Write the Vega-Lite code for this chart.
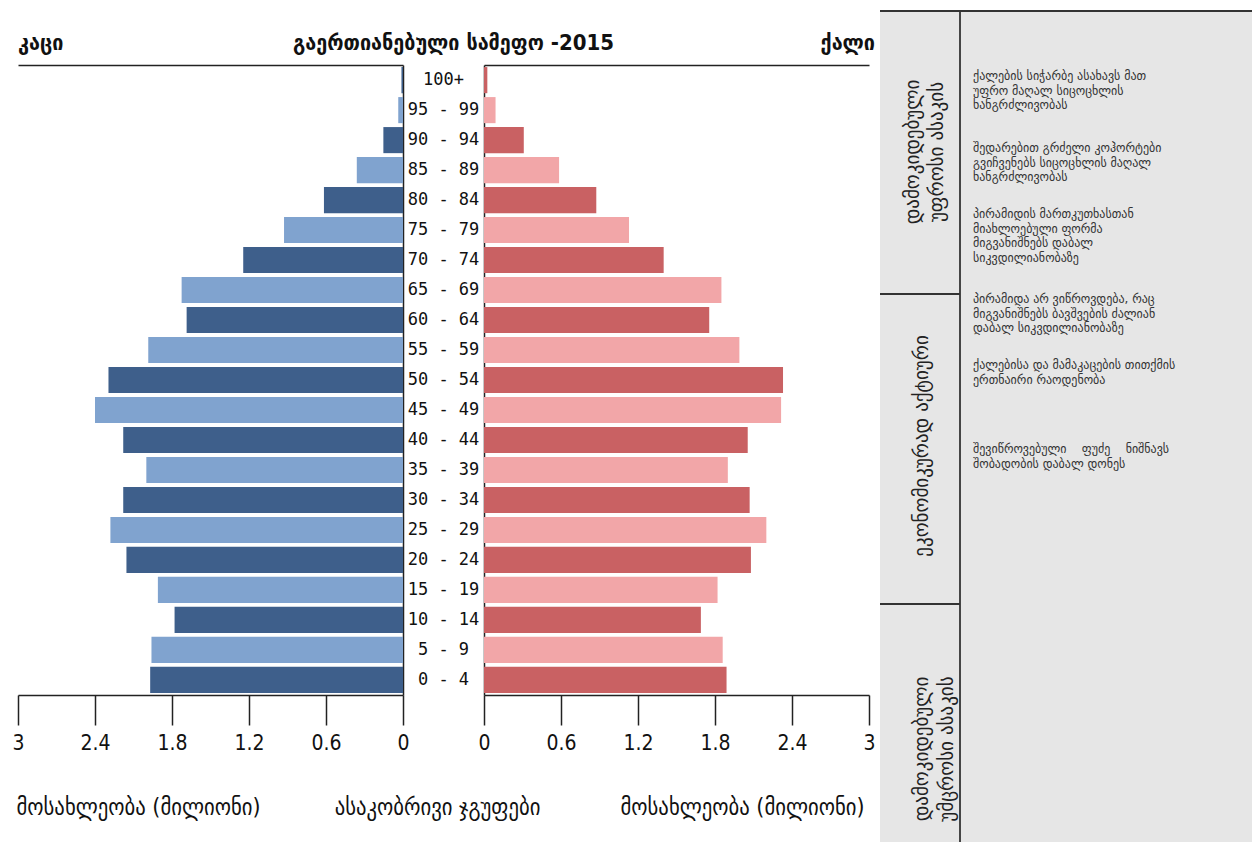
{
  "$schema": "https://vega.github.io/schema/vega-lite/v6.json",
  "background": "white",
  "padding": {"left": 11, "top": 10, "right": 0, "bottom": 0},
  "spacing": 11,
  "bounds": "flush",
  "resolve": {"scale": {"color": "independent"}},
  "datasets": {
    "pop": [
      {"age": "100+", "male": 0.012, "female": 0.026, "shade": "dark"},
      {"age": "95 - 99", "male": 0.037, "female": 0.09, "shade": "light"},
      {"age": "90 - 94", "male": 0.153, "female": 0.31, "shade": "dark"},
      {"age": "85 - 89", "male": 0.36, "female": 0.585, "shade": "light"},
      {"age": "80 - 84", "male": 0.616, "female": 0.875, "shade": "dark"},
      {"age": "75 - 79", "male": 0.927, "female": 1.13, "shade": "light"},
      {"age": "70 - 74", "male": 1.245, "female": 1.40, "shade": "dark"},
      {"age": "65 - 69", "male": 1.725, "female": 1.85, "shade": "light"},
      {"age": "60 - 64", "male": 1.686, "female": 1.755, "shade": "dark"},
      {"age": "55 - 59", "male": 1.985, "female": 1.99, "shade": "light"},
      {"age": "50 - 54", "male": 2.295, "female": 2.33, "shade": "dark"},
      {"age": "45 - 49", "male": 2.40, "female": 2.315, "shade": "light"},
      {"age": "40 - 44", "male": 2.18, "female": 2.055, "shade": "dark"},
      {"age": "35 - 39", "male": 2.00, "female": 1.90, "shade": "light"},
      {"age": "30 - 34", "male": 2.18, "female": 2.07, "shade": "dark"},
      {"age": "25 - 29", "male": 2.28, "female": 2.20, "shade": "light"},
      {"age": "20 - 24", "male": 2.155, "female": 2.08, "shade": "dark"},
      {"age": "15 - 19", "male": 1.91, "female": 1.82, "shade": "light"},
      {"age": "10 - 14", "male": 1.78, "female": 1.69, "shade": "dark"},
      {"age": "5 - 9", "male": 1.96, "female": 1.86, "shade": "light"},
      {"age": "0 - 4", "male": 1.97, "female": 1.89, "shade": "dark"}
    ],
    "box": [
      {"tx": 0, "tx2": 372, "ty": 0, "ty2": 832}
    ],
    "lines": [
      {"tx": 0, "tx2": 372, "ty": 0, "ty2": 0},
      {"tx": 80, "tx2": 80, "ty": 0, "ty2": 832},
      {"tx": 0, "tx2": 80, "ty": 283, "ty2": 283},
      {"tx": 0, "tx2": 80, "ty": 593, "ty2": 593}
    ],
    "body": [
      {"tx": 93, "ty": 65, "txt": "ქალების სიჭარბე ასახავს მათ"},
      {"tx": 93, "ty": 79.5, "txt": "უფრო მაღალ სიცოცხლის"},
      {"tx": 93, "ty": 94, "txt": "ხანგრძლივობას"},
      {"tx": 93, "ty": 137, "txt": "შედარებით გრძელი კოჰორტები"},
      {"tx": 93, "ty": 151.5, "txt": "გვიჩვენებს სიცოცხლის მაღალ"},
      {"tx": 93, "ty": 166, "txt": "ხანგრძლივობას"},
      {"tx": 93, "ty": 203, "txt": "პირამიდის მართკუთხასთან"},
      {"tx": 93, "ty": 217.5, "txt": "მიახლოებული ფორმა"},
      {"tx": 93, "ty": 232, "txt": "მიგვანიშნებს დაბალ"},
      {"tx": 93, "ty": 246.5, "txt": "სიკვდილიანობაზე"},
      {"tx": 93, "ty": 288, "txt": "პირამიდა არ ვიწროვდება, რაც"},
      {"tx": 93, "ty": 302.5, "txt": "მიგვანიშნებს ბავშვების ძალიან"},
      {"tx": 93, "ty": 317, "txt": "დაბალ სიკვდილიანობაზე"},
      {"tx": 93, "ty": 354, "txt": "ქალებისა და მამაკაცების თითქმის"},
      {"tx": 93, "ty": 368.5, "txt": "ერთნაირი რაოდენობა"},
      {"tx": 93, "ty": 438, "txt": "შევიწროვებული\u00a0\u00a0\u00a0\u00a0ფუძე\u00a0\u00a0\u00a0\u00a0ნიშნავს"},
      {"tx": 93, "ty": 452.5, "txt": "შობადობის დაბალ დონეს"}
    ],
    "side": [
      {"tx": 33, "ty": 141, "txt": "დამოკიდებული"},
      {"tx": 57, "ty": 141, "txt": "უფროსი ასაკის"},
      {"tx": 42, "ty": 435, "txt": "ეკონომიკურად აქტიური"},
      {"tx": 42, "ty": 738, "txt": "დამოკიდებული"},
      {"tx": 67, "ty": 738, "txt": "უმცროსი ასაკის"}
    ]
  },
  "hconcat": [
    {
      "width": 385,
      "height": 630,
      "data": {"name": "pop"},
      "title": {"text": "კაცი", "anchor": "start", "dx": 6, "font": "DejaVu Sans Condensed", "fontSize": 22, "fontWeight": "bold", "color": "#111", "offset": 10},
      "layer": [
        {
          "mark": {"type": "bar"},
          "encoding": {
            "y": {"field": "age", "type": "nominal", "sort": null, "scale": {"paddingInner": 0.13, "paddingOuter": 0.07}, "axis": {"orient": "right", "labels": false, "ticks": false, "title": null, "domainColor": "#222", "domainWidth": 1.5}},
            "x": {"field": "male", "type": "quantitative", "scale": {"domain": [0, 3], "reverse": true, "nice": false}, "axis": {"orient": "bottom", "values": [0, 0.6, 1.2, 1.8, 2.4, 3], "format": "~g", "labelFlush": false, "labelOverlap": false, "tickSize": 30, "tickColor": "#222", "tickWidth": 1.5, "domainColor": "#222", "domainWidth": 1.5, "labelFont": "Liberation Sans Narrow, DejaVu Sans Condensed", "labelFontSize": 21, "labelColor": "#111", "labelPadding": 7, "title": "მოსახლეობა (მილიონი)", "titleFont": "DejaVu Sans Condensed", "titleFontSize": 23, "titleFontWeight": "normal", "titleColor": "#111", "titleX": 120, "titleY": 112, "titleAlign": "center", "titleBaseline": "middle"}},
            "color": {"field": "shade", "type": "nominal", "scale": {"domain": ["dark", "light"], "range": ["#3e5f8b", "#80a3cf"]}, "legend": null}
          }
        },
        {
          "mark": {"type": "bar", "opacity": 0},
          "encoding": {
            "y": {"field": "age", "type": "nominal", "sort": null},
            "x": {"field": "male", "type": "quantitative", "axis": {"orient": "top", "labels": false, "ticks": false, "title": null, "domainColor": "#222", "domainWidth": 1.5}}
          }
        }
      ],
      "resolve": {"axis": {"x": "independent"}}
    },
    {
      "width": 59,
      "height": 630,
      "data": {"name": "pop"},
      "title": {"text": "გაერთიანებული სამეფო -2015", "anchor": "middle", "dx": 10, "font": "DejaVu Sans Condensed", "fontSize": 22, "fontWeight": "bold", "color": "#111", "offset": 10},
      "mark": {"type": "text", "font": "DejaVu Sans Mono", "fontSize": 17, "align": "center", "baseline": "middle", "color": "#111"},
      "encoding": {
        "y": {"field": "age", "type": "nominal", "sort": null, "scale": {"paddingInner": 0.13, "paddingOuter": 0.07}, "axis": null},
        "x": {"datum": 0, "type": "quantitative", "scale": {"domain": [-1, 1]}, "axis": {"labels": false, "ticks": false, "domain": false, "grid": false, "title": "ასაკობრივი ჯგუფები", "titleFont": "DejaVu Sans Condensed", "titleFontSize": 23, "titleFontWeight": "normal", "titleColor": "#111", "titleX": 23, "titleY": 112, "titleAlign": "center", "titleBaseline": "middle"}},
        "text": {"field": "age"}
      }
    },
    {
      "width": 385,
      "height": 630,
      "data": {"name": "pop"},
      "title": {"text": "ქალი", "anchor": "end", "font": "DejaVu Sans Condensed", "fontSize": 22, "fontWeight": "bold", "color": "#111", "offset": 10},
      "layer": [
        {
          "mark": {"type": "bar"},
          "encoding": {
            "y": {"field": "age", "type": "nominal", "sort": null, "scale": {"paddingInner": 0.13, "paddingOuter": 0.07}, "axis": {"orient": "left", "labels": false, "ticks": false, "title": null, "domainColor": "#222", "domainWidth": 1.5}},
            "x": {"field": "female", "type": "quantitative", "scale": {"domain": [0, 3], "nice": false}, "axis": {"orient": "bottom", "values": [0, 0.6, 1.2, 1.8, 2.4, 3], "format": "~g", "labelFlush": false, "labelOverlap": false, "tickSize": 30, "tickColor": "#222", "tickWidth": 1.5, "domainColor": "#222", "domainWidth": 1.5, "labelFont": "Liberation Sans Narrow, DejaVu Sans Condensed", "labelFontSize": 21, "labelColor": "#111", "labelPadding": 7, "title": "მოსახლეობა (მილიონი)", "titleFont": "DejaVu Sans Condensed", "titleFontSize": 23, "titleFontWeight": "normal", "titleColor": "#111", "titleX": 258, "titleY": 112, "titleAlign": "center", "titleBaseline": "middle"}},
            "color": {"field": "shade", "type": "nominal", "scale": {"domain": ["dark", "light"], "range": ["#c96163", "#f2a6a8"]}, "legend": null}
          }
        },
        {
          "mark": {"type": "bar", "opacity": 0},
          "encoding": {
            "y": {"field": "age", "type": "nominal", "sort": null},
            "x": {"field": "female", "type": "quantitative", "axis": {"orient": "top", "labels": false, "ticks": false, "title": null, "domainColor": "#222", "domainWidth": 1.5}}
          }
        }
      ],
      "resolve": {"axis": {"x": "independent"}}
    },
    {
      "width": 372,
      "height": 630,
      "layer": [
        {
          "data": {"name": "box"},
          "mark": {"type": "rect", "color": "#e6e6e6"},
          "encoding": {
            "x": {"field": "tx", "type": "quantitative", "scale": {"domain": [0, 372], "nice": false, "zero": false}, "axis": null},
            "x2": {"field": "tx2"},
            "y": {"field": "ty", "type": "quantitative", "scale": {"domain": [54, 684], "reverse": true, "nice": false, "zero": false}, "axis": null},
            "y2": {"field": "ty2"}
          }
        },
        {
          "data": {"name": "lines"},
          "mark": {"type": "rule", "color": "#333", "strokeWidth": 1.8},
          "encoding": {
            "x": {"field": "tx", "type": "quantitative", "scale": {"domain": [0, 372], "nice": false, "zero": false}, "axis": null},
            "x2": {"field": "tx2"},
            "y": {"field": "ty", "type": "quantitative", "scale": {"domain": [54, 684], "reverse": true, "nice": false, "zero": false}, "axis": null},
            "y2": {"field": "ty2"}
          }
        },
        {
          "data": {"name": "body"},
          "mark": {"type": "text", "font": "DejaVu Sans", "fontSize": 12, "align": "left", "baseline": "middle", "color": "#333"},
          "encoding": {
            "x": {"field": "tx", "type": "quantitative", "scale": {"domain": [0, 372], "nice": false, "zero": false}, "axis": null},
            "y": {"field": "ty", "type": "quantitative", "scale": {"domain": [54, 684], "reverse": true, "nice": false, "zero": false}, "axis": null},
            "text": {"field": "txt"}
          }
        },
        {
          "data": {"name": "side"},
          "mark": {"type": "text", "font": "DejaVu Sans", "fontSize": 19, "angle": 270, "align": "center", "baseline": "middle", "color": "#222"},
          "encoding": {
            "x": {"field": "tx", "type": "quantitative", "scale": {"domain": [0, 372], "nice": false, "zero": false}, "axis": null},
            "y": {"field": "ty", "type": "quantitative", "scale": {"domain": [54, 684], "reverse": true, "nice": false, "zero": false}, "axis": null},
            "text": {"field": "txt"}
          }
        }
      ]
    }
  ],
  "config": {
    "view": {"stroke": null},
    "axis": {"grid": false}
  }
}
